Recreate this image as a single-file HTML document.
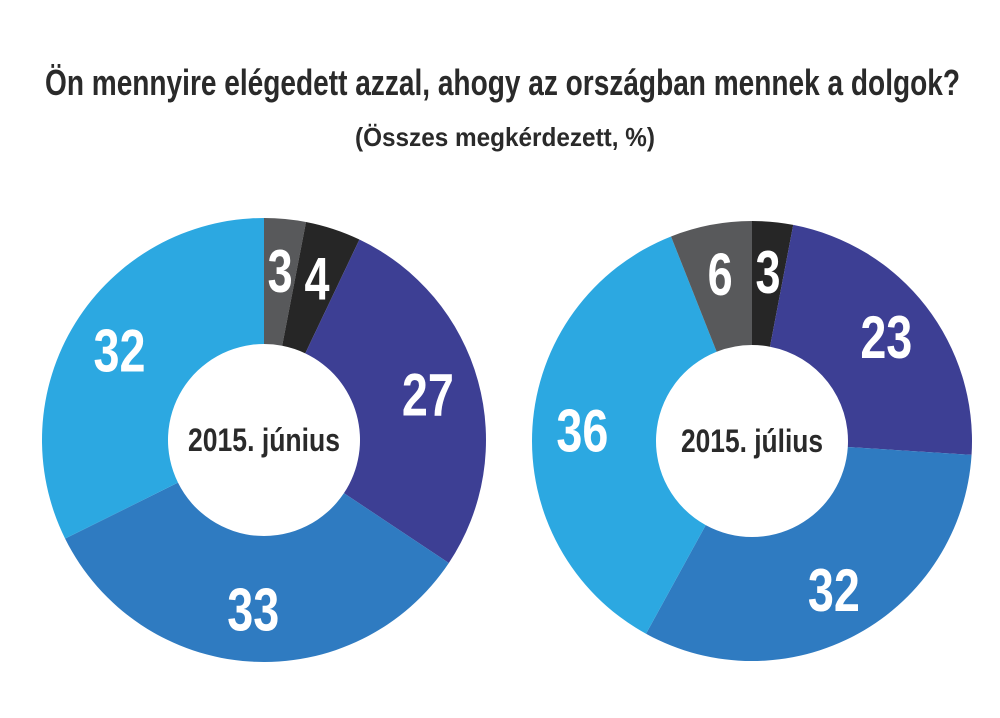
<!DOCTYPE html>
<html><head><meta charset="utf-8"><style>
body{margin:0;background:#fff;}
svg{display:block;}
text{font-family:"Liberation Sans Narrow","Liberation Sans",sans-serif;font-weight:bold;}
</style></head><body>
<svg id="chart" width="1000" height="718" viewBox="0 0 1000 718">
<text x="45" y="95" font-size="36" fill="#2a2a2a" textLength="915" lengthAdjust="spacingAndGlyphs">Ön mennyire elégedett azzal, ahogy az országban mennek a dolgok?</text>
<text x="355" y="146" font-size="26" fill="#2a2a2a" textLength="300" lengthAdjust="spacingAndGlyphs">(Összes megkérdezett, %)</text>
<g id="donuts"></g>
</svg>
<script>
const categories = ["gray", "black", "indigo", "mid-blue", "light-blue"];
const juneValues = [3, 4, 27, 33, 32];
const julyValues = [6, 3, 23, 32, 36];
const periodLabels = ["2015. június", "2015. július"];
const colors = {"gray":"#58595b","black":"#262626","indigo":"#3d3f94","mid-blue":"#2f7bc1","light-blue":"#2ca8e1"};
const NS = "http://www.w3.org/2000/svg";
const g = document.getElementById("donuts");
function pt(cx, cy, r, a){ return [cx + r*Math.sin(a), cy - r*Math.cos(a)]; }
function donut(cx, cy, ro, ri, order, values, startFrac, label, idx, labelW){
  const total = order.reduce((s,i)=>s+values[i],0);
  let acc = startFrac*total;
  order.forEach(i=>{
    const v = values[i];
    const a0 = acc/total*2*Math.PI, a1 = (acc+v)/total*2*Math.PI;
    const large = (a1-a0) > Math.PI ? 1 : 0;
    const p0=pt(cx,cy,ro,a0), p1=pt(cx,cy,ro,a1), p2=pt(cx,cy,ri,a1), p3=pt(cx,cy,ri,a0);
    const path = document.createElementNS(NS,"path");
    path.setAttribute("d",`M${p0}A${ro},${ro} 0 ${large} 1 ${p1}L${p2}A${ri},${ri} 0 ${large} 0 ${p3}Z`);
    path.setAttribute("fill",colors[categories[i]]);
    
    
    g.appendChild(path);
    const am = (a0+a1)/2;
    const lp = pt(cx,cy,170,am);
    const t = document.createElementNS(NS,"text");
    t.setAttribute("x",lp[0]); t.setAttribute("y",lp[1]+21);
    t.setAttribute("text-anchor","middle");
    t.setAttribute("font-size","60");
    t.setAttribute("fill","#fff");
    t.setAttribute("textLength", String(v).length > 1 ? "52" : "25");
    t.setAttribute("lengthAdjust","spacingAndGlyphs");
    t.textContent = v;
    
    
    g.appendChild(t);
    acc += v;
  });
  const c = document.createElementNS(NS,"text");
  c.setAttribute("x",cx); c.setAttribute("y",cy+11);
  c.setAttribute("text-anchor","middle");
  c.setAttribute("font-size","32");
  c.setAttribute("fill","#2a2a2a");
  c.setAttribute("textLength",labelW);
  c.setAttribute("lengthAdjust","spacingAndGlyphs");
  c.textContent = label;
  
  
  g.appendChild(c);
}
donut(264, 440, 222, 96, [0,1,2,3,4], juneValues, 0, periodLabels[0], "june", "152");
donut(752, 441, 220, 96, [1,2,3,4,0], julyValues, 0, periodLabels[1], "july", "142");
</script>
</body></html>
